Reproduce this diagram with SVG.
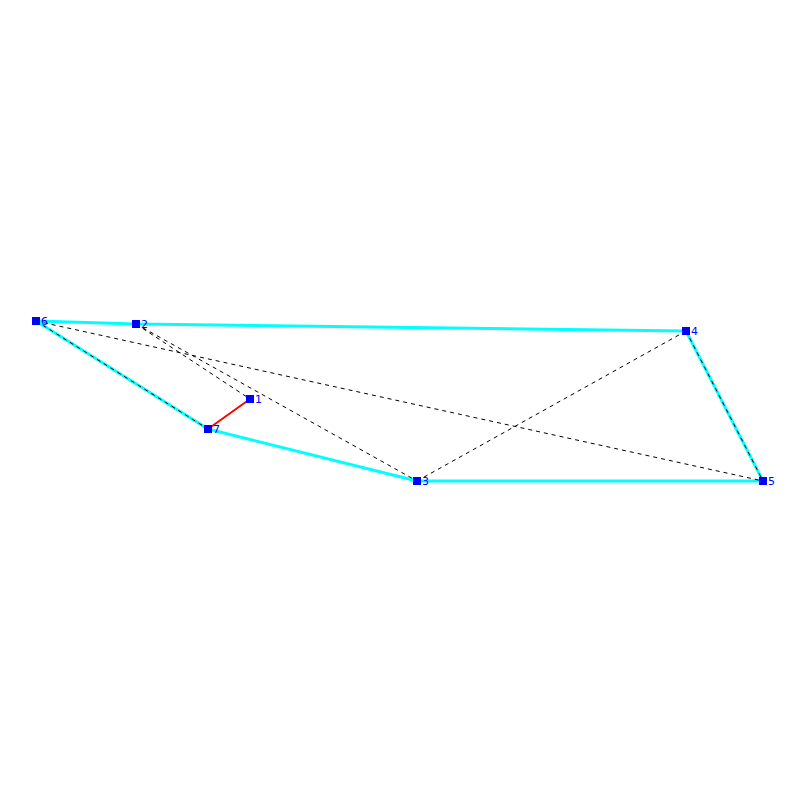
<svg xmlns="http://www.w3.org/2000/svg" width="800" height="800" viewBox="0 0 800 800">
<style>
.c{stroke:#00ffff;stroke-width:3;fill:none}
.r{stroke:#ff0000;stroke-width:2;fill:none}
.d{stroke:#000;stroke-width:1;stroke-dasharray:4 4;fill:none}
.n rect{fill:#0000ff}
.n text{fill:#0000ff;font-family:"DejaVu Sans",sans-serif;font-size:11px}
</style>
<rect width="800" height="800" fill="#fff"/>
<g id="connectors">
<line class="c" x1="36" y1="321" x2="136" y2="324"/>
<line class="c" x1="136" y1="324" x2="686" y2="331"/>
<line class="c" x1="686" y1="331" x2="763" y2="481"/>
<line class="c" x1="763" y1="481" x2="417" y2="481"/>
<line class="c" x1="417" y1="481" x2="208" y2="429"/>
<line class="c" x1="208" y1="429" x2="36" y2="321"/>
<line class="r" x1="208" y1="429" x2="250" y2="399"/>
<line class="d" x1="36" y1="321" x2="763" y2="481"/>
<line class="d" x1="136" y1="324" x2="250" y2="399"/>
<line class="d" x1="136" y1="324" x2="417" y2="481"/>
<line class="d" x1="417" y1="481" x2="686" y2="331"/>
<line class="d" x1="36" y1="321" x2="208" y2="429"/>
<line class="d" x1="686" y1="331" x2="763" y2="481"/>
</g>
<g id="n1" class="n"><rect x="246" y="395" width="8" height="8"/><text x="255" y="403">1</text></g>
<g id="n2" class="n"><rect x="132" y="320" width="8" height="8"/><text x="141" y="328">2</text></g>
<g id="n3" class="n"><rect x="413" y="477" width="8" height="8"/><text x="422" y="485">3</text></g>
<g id="n4" class="n"><rect x="682" y="327" width="8" height="8"/><text x="691" y="335">4</text></g>
<g id="n5" class="n"><rect x="759" y="477" width="8" height="8"/><text x="768" y="485">5</text></g>
<g id="n6" class="n"><rect x="32" y="317" width="8" height="8"/><text x="41" y="325">6</text></g>
<g id="n7" class="n"><rect x="204" y="425" width="8" height="8"/><text x="213" y="433">7</text></g>
</svg>
